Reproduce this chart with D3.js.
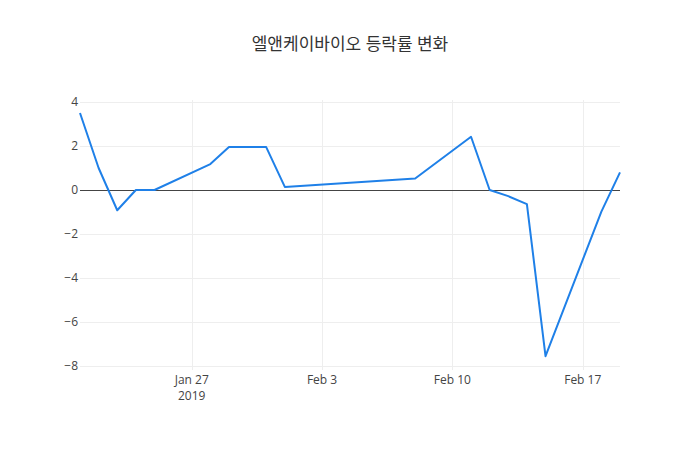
<!DOCTYPE html>
<html><head><meta charset="utf-8">
<script src="https://cdn.jsdelivr.net/npm/d3@7"></script>
<style>body{margin:0;background:#fff}text{font-family:"Open Sans","Noto Sans CJK KR",sans-serif}</style>
</head><body>
<svg id="c" width="700" height="450"></svg>
<script>
const title = "엘앤케이바이오 등락률 변화";
const dates = ["2019-01-21","2019-01-22","2019-01-23","2019-01-24","2019-01-25","2019-01-28","2019-01-29","2019-01-30","2019-01-31","2019-02-01","2019-02-08","2019-02-11","2019-02-12","2019-02-13","2019-02-14","2019-02-15","2019-02-18","2019-02-19"];
const values = [3.5, 1.0, -0.92, 0, 0, 1.18, 1.95, 1.95, 1.95, 0.14, 0.52, 2.42, 0.0, -0.28, -0.64, -7.55, -0.98, 0.8];
const yTicks = [-8, -6, -4, -2, 0, 2, 4];
const xTicks = ["2019-01-27","2019-02-03","2019-02-10","2019-02-17"];
const xTickLabels = [["Jan 27","2019"],["Feb 3"],["Feb 10"],["Feb 17"]];

const svg = d3.select("#c");
const W = 700, H = 450, m = {l:80, r:80, t:100, b:80};
const parse = d3.utcParse("%Y-%m-%d");
const data = dates.map((d,i)=>({x:parse(d), y:values[i]}));
const x = d3.scaleUtc().domain(d3.extent(data, d=>d.x)).range([m.l, W-m.r]);
const y = d3.scaleLinear().domain([-8.18, 4.09]).range([H-m.b, m.t]);
const crisp = v => Math.round(v) + 0.5;

svg.append("text").attr("x", W/2).attr("y", 50).attr("text-anchor","middle")
  .attr("font-size", 17).attr("fill","#333").text(title);

const g = svg.append("g");
// grid
g.selectAll(".yg").data(yTicks.filter(v=>v!==0)).join("line")
  .attr("x1", m.l).attr("x2", W-m.r).attr("y1", d=>crisp(y(d))).attr("y2", d=>crisp(y(d)))
  .attr("stroke","#eee").attr("stroke-width",1);
g.selectAll(".xg").data(xTicks.map(parse)).join("line")
  .attr("x1", d=>crisp(x(d))).attr("x2", d=>crisp(x(d))).attr("y1", m.t).attr("y2", H-m.b)
  .attr("stroke","#eee").attr("stroke-width",1);
// zero line
g.append("line").attr("x1", m.l).attr("x2", W-m.r).attr("y1", crisp(y(0))).attr("y2", crisp(y(0)))
  .attr("stroke","#444").attr("stroke-width",1);

// y labels
g.selectAll(".yl").data(yTicks).join("text")
  .attr("x", m.l-2).attr("y", d=>y(d)).attr("dy","0.35em").attr("text-anchor","end")
  .attr("font-size",12).attr("fill","#444").text(d=>d<0?"\u2212"+Math.abs(d):d);
// x labels
xTicks.forEach((t,i)=>{
  xTickLabels[i].forEach((s,j)=>{
    g.append("text").attr("x", x(parse(t))).attr("y", H-m.b+14+j*16)
      .attr("text-anchor","middle").attr("font-size",12).attr("fill","#444").text(s);
  });
});

const line = d3.line().x(d=>x(d.x)).y(d=>y(d.y));
g.append("path").datum(data).attr("d", line).attr("fill","none")
  .attr("stroke","#1f80e8").attr("stroke-width",2).attr("stroke-linejoin","round");
</script>
</body></html>
